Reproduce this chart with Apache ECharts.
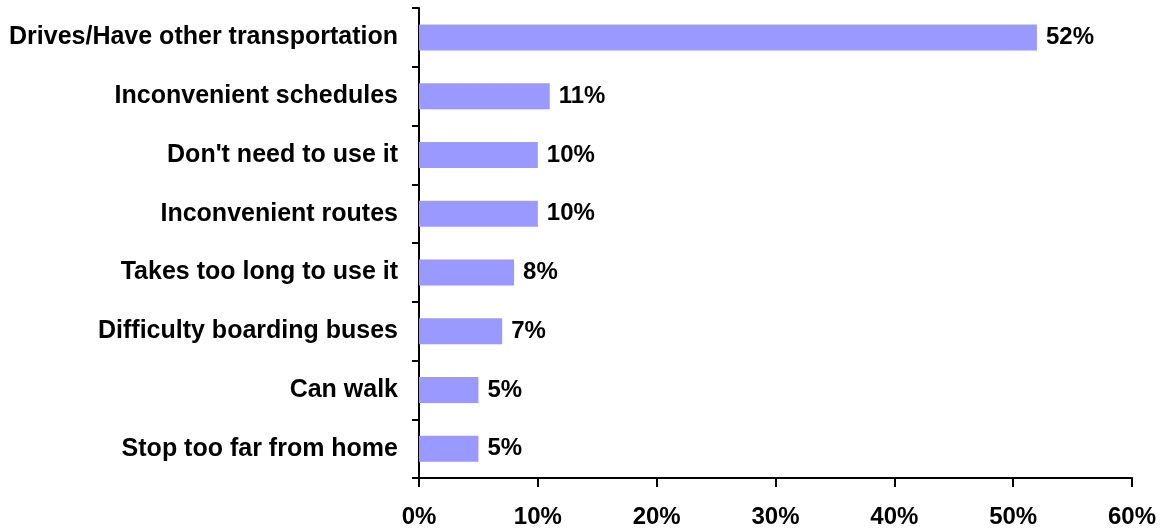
<!DOCTYPE html>
<html>
<head>
<meta charset="utf-8">
<script src="https://cdn.jsdelivr.net/npm/echarts@6/dist/echarts.min.js"></script>
<style>
  html, body { margin: 0; padding: 0; background: #ffffff; }
  #chart { width: 1162px; height: 531px; }
</style>
</head>
<body>
<div id="chart"></div>
<script>
// Reasons for not using the bus service (share of respondents, %)
const reasons = [
  'Drives/Have other transportation',
  'Inconvenient schedules',
  "Don't need to use it",
  'Inconvenient routes',
  'Takes too long to use it',
  'Difficulty boarding buses',
  'Can walk',
  'Stop too far from home'
];
const shares = [52, 11, 10, 10, 8, 7, 5, 5];
const percentTicks = [0, 10, 20, 30, 40, 50, 60];

const FONT = '"Liberation Sans", Arial, sans-serif';
const chart = echarts.init(document.getElementById('chart'), null, { renderer: 'canvas' });

chart.setOption({
  animation: false,
  backgroundColor: '#ffffff',
  grid: { left: 419, right: 30, top: 8, bottom: 53, containLabel: false },
  xAxis: {
    type: 'value',
    min: percentTicks[0],
    max: percentTicks[percentTicks.length - 1],
    interval: percentTicks[1] - percentTicks[0],
    axisLine: { show: true, lineStyle: { color: '#000', width: 2 } },
    axisTick: { show: true, length: 9, lineStyle: { color: '#000', width: 2 } },
    splitLine: { show: false },
    axisLabel: {
      formatter: '{value}%',
      margin: 27,
      color: '#000',
      fontFamily: FONT,
      fontWeight: 'bold',
      fontSize: 24
    }
  },
  yAxis: {
    type: 'category',
    inverse: true,
    data: reasons,
    axisLine: { show: true, lineStyle: { color: '#000', width: 2 } },
    axisTick: { show: true, length: 7, alignWithLabel: false, lineStyle: { color: '#000', width: 2 } },
    axisLabel: {
      margin: 21,
      color: '#000',
      fontFamily: FONT,
      fontWeight: 'bold',
      fontSize: 25
    }
  },
  series: [{
    type: 'bar',
    data: shares,
    barWidth: 26,
    itemStyle: { color: '#9999FF' },
    label: {
      show: true,
      position: 'right',
      distance: 9,
      formatter: '{c}%',
      color: '#000',
      fontFamily: FONT,
      fontWeight: 'bold',
      fontSize: 24
    }
  }]
});
</script>
</body>
</html>
